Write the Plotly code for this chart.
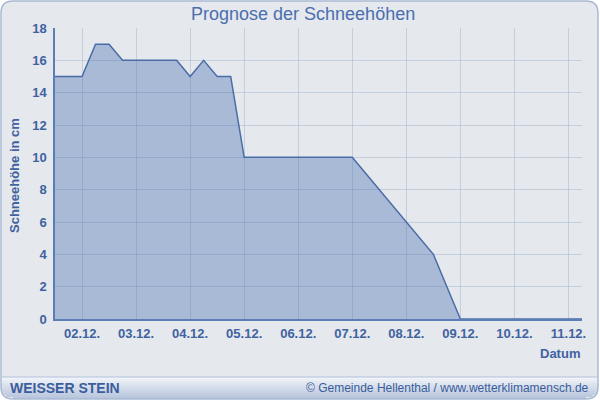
import math
import plotly.graph_objects as go

# ---------------- data ----------------
times = [
    "2023-12-01 12:00", "2023-12-01 18:00",
    "2023-12-02 00:00", "2023-12-02 06:00", "2023-12-02 12:00", "2023-12-02 18:00",
    "2023-12-03 00:00", "2023-12-03 06:00", "2023-12-03 12:00", "2023-12-03 18:00",
    "2023-12-04 00:00", "2023-12-04 06:00", "2023-12-04 12:00", "2023-12-04 18:00",
    "2023-12-05 00:00", "2023-12-05 06:00", "2023-12-05 12:00", "2023-12-05 18:00",
    "2023-12-06 00:00", "2023-12-06 06:00", "2023-12-06 12:00", "2023-12-06 18:00",
    "2023-12-07 00:00", "2023-12-07 06:00", "2023-12-07 12:00", "2023-12-07 18:00",
    "2023-12-08 00:00", "2023-12-08 06:00", "2023-12-08 12:00", "2023-12-08 18:00",
    "2023-12-09 00:00", "2023-12-09 06:00", "2023-12-09 12:00", "2023-12-09 18:00",
    "2023-12-10 00:00", "2023-12-10 06:00", "2023-12-10 12:00", "2023-12-10 18:00",
    "2023-12-11 00:00", "2023-12-11 06:00",
]
snow_cm = [
    15, 15,
    15, 17, 17, 16,
    16, 16, 16, 16,
    15, 16, 15, 15,
    10, 10, 10, 10,
    10, 10, 10, 10,
    10, 9, 8, 7,
    6, 5, 4, 2,
    0, 0, 0, 0,
    0, 0, 0, 0,
    0, 0,
]
tick_dates = ["2023-12-02", "2023-12-03", "2023-12-04", "2023-12-05", "2023-12-06",
              "2023-12-07", "2023-12-08", "2023-12-09", "2023-12-10", "2023-12-11"]
tick_labels = ["02.12.", "03.12.", "04.12.", "05.12.", "06.12.",
               "07.12.", "08.12.", "09.12.", "10.12.", "11.12."]
y_ticks = [0, 2, 4, 6, 8, 10, 12, 14, 16, 18]

title_text = "Prognose der Schneehöhen"
y_title = "Schneehöhe in cm"
x_title = "Datum"
station = "WEISSER STEIN"
credit = "© Gemeinde Hellenthal / www.wetterklimamensch.de"

# ---------------- geometry helpers ----------------
FW, FH = 600, 401
L, R, T, B = 55, 582, 28, 319
PW, PH = R - L, B - T


def px(x):
    return (x - L) / PW


def py(y):
    return (B - y) / PH


TXT = "#3f62a0"
FONT = "Liberation Sans, Arial, sans-serif"

fig = go.Figure()
fig.add_trace(go.Scatter(
    x=times, y=snow_cm, mode="lines",
    line=dict(color="#4a6da8", width=1.5),
    fill="tozeroy", fillcolor="rgba(70,110,180,0.38)",
    hoverinfo="x+y", showlegend=False,
))

shapes = []


def rounded_rect_path(x0, y0, x1, y1, r, top=True, bottom=True):
    rx, ry = r / PW, r / PH
    X0, X1 = px(x0), px(x1)
    Y0, Y1 = py(y0), py(y1)  # Y0 top (higher), Y1 bottom
    rt = (rx, ry) if top else (0, 0)
    rb = (rx, ry) if bottom else (0, 0)
    p = f"M {X0 + rt[0]},{Y0} L {X1 - rt[0]},{Y0} "
    p += f"Q {X1},{Y0} {X1},{Y0 - rt[1]} "
    p += f"L {X1},{Y1 + rb[1]} Q {X1},{Y1} {X1 - rb[0]},{Y1} "
    p += f"L {X0 + rb[0]},{Y1} Q {X0},{Y1} {X0},{Y1 + rb[1]} "
    p += f"L {X0},{Y0 - rt[1]} Q {X0},{Y0} {X0 + rt[0]},{Y0} Z"
    return p


# frame background
shapes.append(dict(type="path", xref="paper", yref="paper", layer="below",
                   path=rounded_rect_path(1, 1, 598, 399, 12),
                   fillcolor="#e5e8ed", line=dict(width=0)))

# bottom bar gradient (strips)
bar_top, bar_bot = 377, 399
rad = 12
c_top = (240, 243, 248)
c_bot = (184, 197, 221)
n = 11
for i in range(n):
    y0 = bar_top + (bar_bot - bar_top) * i / n
    y1 = bar_top + (bar_bot - bar_top) * (i + 1) / n
    t = i / (n - 1)
    col = tuple(int(c_top[k] + (c_bot[k] - c_top[k]) * t) for k in range(3))
    ym = y1
    cy = bar_bot - rad
    inset = 0
    if ym > cy:
        d = min(ym - cy, rad)
        inset = rad - math.sqrt(max(rad * rad - d * d, 0))
    shapes.append(dict(type="rect", xref="paper", yref="paper", layer="below",
                       x0=px(1 + inset), x1=px(598 - inset), y0=py(y1), y1=py(y0),
                       fillcolor="rgb(%d,%d,%d)" % col, line=dict(width=0)))
# bar top line
shapes.append(dict(type="line", xref="paper", yref="paper", layer="below",
                   x0=px(2), x1=px(597), y0=py(bar_top), y1=py(bar_top),
                   line=dict(color="#b3c2dc", width=1)))
# frame border
shapes.append(dict(type="path", xref="paper", yref="paper", layer="below",
                   path=rounded_rect_path(1, 1, 598, 399, 12),
                   fillcolor="rgba(0,0,0,0)", line=dict(color="#a9b9d4", width=1.5)))

annotations = [
    dict(text=title_text, xref="paper", yref="paper", x=px(303), y=py(14),
         xanchor="center", yanchor="middle", showarrow=False,
         font=dict(family=FONT, size=18, color="#4a6eb0")),
    dict(text="<b>%s</b>" % y_title, xref="paper", yref="paper", x=px(14), y=py(176),
         xanchor="center", yanchor="middle", showarrow=False, textangle=-90,
         font=dict(family=FONT, size=13, color=TXT)),
    dict(text="<b>%s</b>" % x_title, xref="paper", yref="paper", x=px(582), y=py(353),
         xanchor="right", yanchor="middle", showarrow=False,
         font=dict(family=FONT, size=13, color=TXT)),
    dict(text="<b>%s</b>" % station, xref="paper", yref="paper", x=px(8), y=py(388),
         xanchor="left", yanchor="middle", showarrow=False,
         font=dict(family=FONT, size=14, color="#3a5d9c")),
    dict(text=credit, xref="paper", yref="paper", x=px(591), y=py(388),
         xanchor="right", yanchor="middle", showarrow=False,
         font=dict(family=FONT, size=12, color="#3a5d9c")),
]

fig.update_layout(
    width=FW, height=FH,
    margin=dict(l=L, r=FW - R, t=T, b=FH - B, pad=0),
    paper_bgcolor="white",
    plot_bgcolor="rgba(0,0,0,0)",
    shapes=shapes,
    annotations=annotations,
    showlegend=False,
    xaxis=dict(
        type="date",
        range=["2023-12-01 12:00", "2023-12-11 06:00"],
        tickvals=tick_dates, ticktext=["<b>%s</b>" % s for s in tick_labels],
        tickfont=dict(family=FONT, size=13, color=TXT),
        showgrid=True, gridcolor="rgba(170,185,210,0.55)", gridwidth=1,
        showline=True, linecolor="#5d7db8", linewidth=1.5,
        ticks="", zeroline=False, ticklabelstandoff=2,
    ),
    yaxis=dict(
        range=[0, 18],
        tickvals=y_ticks, ticktext=["<b>%d</b>" % v for v in y_ticks],
        tickfont=dict(family=FONT, size=13, color=TXT),
        showgrid=True, gridcolor="rgba(170,185,210,0.55)", gridwidth=1,
        showline=True, linecolor="#5d7db8", linewidth=1.5,
        ticks="", zeroline=False, ticklabelstandoff=4,
    ),
)

fig.write_html(
    "out.html",
    config={"displayModeBar": False},
    post_script="document.body.style.margin='0';document.body.style.overflow='hidden';",
)
